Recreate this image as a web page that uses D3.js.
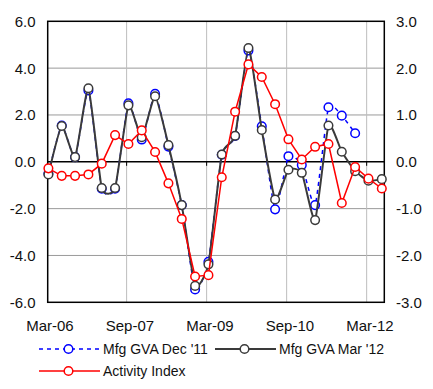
<!DOCTYPE html>
<html>
<head>
<meta charset="utf-8">
<script src="https://cdn.jsdelivr.net/npm/d3@7"></script>
<style>
  body { margin: 0; background: #fff; }
  svg text { font-family: "Liberation Sans", Arial, sans-serif; fill: #111; }
</style>
</head>
<body>
<div id="chart"></div>
<script>
(function () {
"use strict";

// Quarterly periods, Mar-06 .. Jun-12
var quarters = ["Mar-06","Jun-06","Sep-06","Dec-06","Mar-07","Jun-07","Sep-07","Dec-07",
                "Mar-08","Jun-08","Sep-08","Dec-08","Mar-09","Jun-09","Sep-09","Dec-09",
                "Mar-10","Jun-10","Sep-10","Dec-10","Mar-11","Jun-11","Sep-11","Dec-11",
                "Mar-12","Jun-12"];
var tickLabels = ["Mar-06", "Sep-07", "Mar-09", "Sep-10", "Mar-12"];

// Mfg GVA, Dec '11 vintage (left axis)
var gvaDec11 = [-0.5, 1.55, 0.2, 3.05, -1.15, -1.15, 2.5, 0.95, 2.9, 0.65, -1.85, -5.45, -4.27,
                0.3, 1.1, 4.75, 1.52, -2.03, 0.24, -0.14, -1.85, 2.33, 1.97, 1.22];
// Mfg GVA, Mar '12 vintage (left axis)
var gvaMar12 = [-0.54, 1.53, 0.2, 3.14, -1.12, -1.12, 2.41, 1.05, 2.8, 0.71, -1.85, -5.3, -4.38,
                0.31, 1.11, 4.86, 1.36, -1.61, -0.34, -0.47, -2.49, 1.55, 0.43, -0.4, -0.81, -0.74];
// Activity Index (right axis)
var activity = [-0.14, -0.3, -0.3, -0.27, -0.04, 0.57, 0.38, 0.67, 0.21, -0.46, -1.22, -2.45, -2.42,
                -0.33, 1.07, 2.08, 1.81, 1.23, 0.48, 0.05, 0.32, 0.38, -0.88, -0.11, -0.36, -0.57];

var leftTicks = [-6, -4, -2, 0, 2, 4, 6];
var rightTicks = [-3, -2, -1, 0, 1, 2, 3];

var fullWidth = 433, fullHeight = 389;
var plot = { left: 47.7, right: 384.3, top: 21.3, bottom: 302.3 };

var svg = d3.select("#chart").append("svg")
  .attr("width", fullWidth)
  .attr("height", fullHeight)
  .attr("viewBox", "0 0 " + fullWidth + " " + fullHeight);

var xScale = d3.scalePoint()
  .domain(quarters)
  .range([48.4, 381.8]);

var yLeft = d3.scaleLinear().domain([-6, 6]).range([plot.bottom, plot.top]);
var yRight = d3.scaleLinear().domain([-3, 3]).range([plot.bottom, plot.top]);

var tickQuarters = quarters.filter(function(q) { return tickLabels.indexOf(q) >= 0; });

// Gridlines (Excel draws them a touch left of the category points)
var gridShift = -1.8;
svg.append("g").selectAll("line.hgrid")
  .data(leftTicks.filter(function(d) { return d !== 0 && d !== 6 && d !== -6; }))
  .enter().append("line")
    .attr("x1", plot.left).attr("x2", plot.right)
    .attr("y1", function(d) { return yLeft(d); })
    .attr("y2", function(d) { return yLeft(d); })
    .style("stroke", "#9a9a9a").style("stroke-width", 1);

svg.append("g").selectAll("line.vgrid")
  .data(tickQuarters.slice(1))
  .enter().append("line")
    .attr("x1", function(d) { return xScale(d) + gridShift; })
    .attr("x2", function(d) { return xScale(d) + gridShift; })
    .attr("y1", plot.top).attr("y2", plot.bottom)
    .style("stroke", "#bdbdbd").style("stroke-width", 1);

// Zero axis with category ticks
svg.append("line")
  .attr("x1", plot.left).attr("x2", plot.right)
  .attr("y1", yLeft(0)).attr("y2", yLeft(0))
  .style("stroke", "#000").style("stroke-width", 1.5);

svg.append("g").selectAll("line.xtick")
  .data(tickQuarters.slice(1))
  .enter().append("line")
    .attr("x1", function(d) { return xScale(d) + gridShift; })
    .attr("x2", function(d) { return xScale(d) + gridShift; })
    .attr("y1", yLeft(0)).attr("y2", yLeft(0) + 4)
    .style("stroke", "#000").style("stroke-width", 1);

// Plot border
svg.append("rect")
  .attr("x", plot.left).attr("y", plot.top)
  .attr("width", plot.right - plot.left).attr("height", plot.bottom - plot.top)
  .style("fill", "none").style("stroke", "#000").style("stroke-width", 1.5);

// Axis labels
svg.append("g").selectAll("text")
  .data(leftTicks)
  .enter().append("text")
    .attr("x", 35.5)
    .attr("y", function(d) { return yLeft(d); })
    .attr("dy", "0.36em")
    .style("text-anchor", "end")
    .style("font-size", "15px")
    .text(function(d) { return d3.format(".1f")(d).replace("−", "-"); });

svg.append("g").selectAll("text")
  .data(rightTicks)
  .enter().append("text")
    .attr("x", 396)
    .attr("y", function(d) { return yRight(d); })
    .attr("dy", "0.36em")
    .style("text-anchor", "start")
    .style("font-size", "15px")
    .text(function(d) { return d3.format(".1f")(d).replace("−", "-"); });

svg.append("g").selectAll("text")
  .data(tickQuarters)
  .enter().append("text")
    .attr("x", function(d) { return xScale(d) + 1.5; })
    .attr("y", 331)
    .style("text-anchor", "middle")
    .style("font-size", "15px")
    .text(function(d) { return d; });

// Series
var series = [
  { name: "Mfg GVA Dec '11", values: gvaDec11, y: yLeft, color: "#0000ff", dash: "4,4", width: 1.5, smooth: true },
  { name: "Mfg GVA Mar '12", values: gvaMar12, y: yLeft, color: "#3a3a3a", dash: null, width: 2, smooth: true },
  { name: "Activity Index", values: activity, y: yRight, color: "#ff0000", dash: null, width: 1.5, smooth: false }
];

series.forEach(function(s) {
  var pts = s.values.map(function(v, i) { return { q: quarters[i], v: v }; });
  var line = d3.line()
    .x(function(d) { return xScale(d.q); })
    .y(function(d) { return s.y(d.v); })
    .curve(s.smooth ? d3.curveCardinal.tension(0.5) : d3.curveLinear);

  var g = svg.append("g");
  g.append("path")
    .datum(pts)
    .attr("d", line)
    .style("fill", "none")
    .style("stroke", s.color)
    .style("stroke-width", s.width)
    .style("stroke-dasharray", s.dash);

  g.selectAll("circle")
    .data(pts)
    .enter().append("circle")
      .attr("cx", function(d) { return xScale(d.q); })
      .attr("cy", function(d) { return s.y(d.v); })
      .attr("r", 4.3)
      .style("fill", "#fff")
      .style("stroke", s.color)
      .style("stroke-width", 1.5);
});

// Legend
var legendPos = [
  { x: 39, y: 349 },
  { x: 215, y: 349 },
  { x: 39, y: 371 }
];

series.forEach(function(s, i) {
  var p = legendPos[i];
  var g = svg.append("g").attr("transform", "translate(" + p.x + "," + p.y + ")");
  g.append("line")
    .attr("x1", 0).attr("x2", 61)
    .attr("y1", 0).attr("y2", 0)
    .style("stroke", s.color)
    .style("stroke-width", s.width)
    .style("stroke-dasharray", s.dash);
  g.append("circle")
    .attr("cx", 29.5).attr("cy", 0).attr("r", 4.3)
    .style("fill", "#fff")
    .style("stroke", s.color)
    .style("stroke-width", 1.5);
  g.append("text")
    .attr("x", 64)
    .attr("y", 0)
    .attr("dy", "0.36em")
    .style("font-size", "14px")
    .text(s.name);
});

})();
</script>
</body>
</html>
